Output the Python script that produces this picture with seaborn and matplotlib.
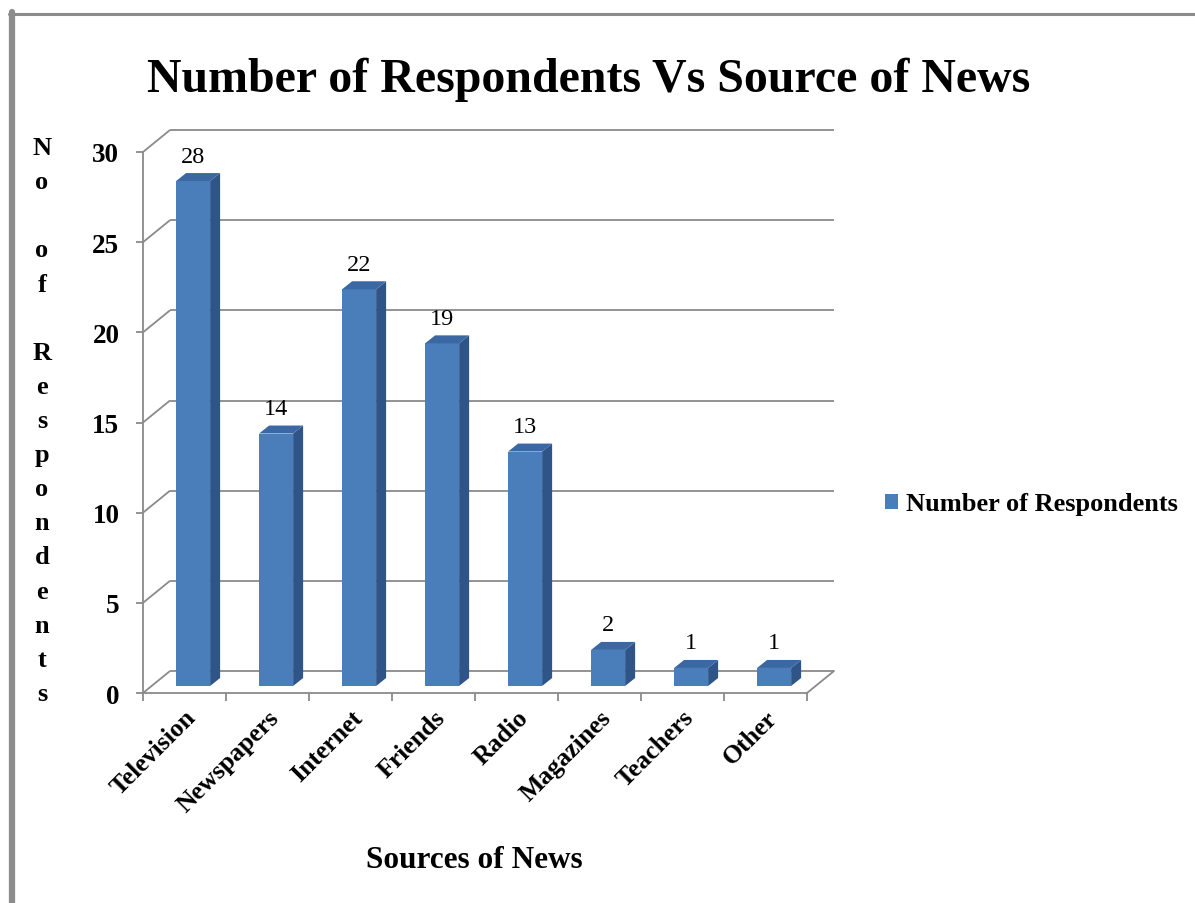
import numpy as np
import pandas as pd
import matplotlib
matplotlib.use("Agg")
import matplotlib.pyplot as plt
import seaborn as sns
from matplotlib.transforms import ScaledTranslation
from matplotlib.patches import Polygon
from matplotlib.lines import Line2D

# ---------------- data ----------------
categories = ["Television", "Newspapers", "Internet", "Friends",
              "Radio", "Magazines", "Teachers", "Other"]
respondents = [28, 14, 22, 19, 13, 2, 1, 1]
y_ticks = [0, 5, 10, 15, 20, 25, 30]
series_name = "Number of Respondents"
title_text = "Number of Respondents Vs Source of News"
x_title = "Sources of News"
y_title_words = ["No", "of", "Respondents"]

# ---------------- style ----------------
FRONT = "#4A7EBB"
SIDE = "#2F5487"
TOP = "#3B67A3"
GRID = "#8A8A8A"
FRAME = "#8C8C8C"

W, H = 1195, 904
sns.set_theme(style="white")
plt.rcParams['font.family'] = ['Liberation Serif', 'DejaVu Serif']
plt.rcParams['text.color'] = 'black'
plt.rcParams['axes.labelcolor'] = 'black'
plt.rcParams['xtick.color'] = 'black'
plt.rcParams['ytick.color'] = 'black'

fig = plt.figure(figsize=(W / 100, H / 100), dpi=100)
fig.patch.set_facecolor("white")


def fx(px):
    return px / W


def fy(py):
    return 1 - py / H


# front plane of the pseudo-3D plot area (pixels)
L, R, B, T = 143, 807, 694, 153
ax = fig.add_axes([fx(L), fy(B), fx(R) - fx(L), fy(T) - fy(B)])
ax.set_facecolor("none")

df = pd.DataFrame({"Source": categories, "Respondents": respondents,
                   "Series": series_name})
sns.barplot(data=df, x="Source", y="Respondents", hue="Series",
            palette=[FRONT], saturation=1, width=0.41, ax=ax,
            zorder=3, edgecolor="none", linewidth=0)
handles, labels = ax.get_legend_handles_labels()
if ax.get_legend() is not None:
    ax.get_legend().remove()

n = len(categories)
ax.set_xlim(-0.5, n - 0.5)
ax.set_ylim(0, 30)

px_x = (R - L) / n          # pixels per category
px_y = (B - T) / 30.0       # pixels per unit

# wall depth
wx, wy = 27 / px_x, 22 / px_y
# bar placement inside depth and bar depth
bar_dx_px, bar_dy_px = 8.6, 7
bdx, bdy = 10 / px_x, 8 / px_y

shift = ax.transData + ScaledTranslation(bar_dx_px / 100, bar_dy_px / 100,
                                         fig.dpi_scale_trans)

# walls / gridlines
glw = 1.3
for t in y_ticks:
    ax.plot([-0.5, -0.5 + wx], [t, t + wy], color=GRID, lw=glw,
            clip_on=False, zorder=1, solid_capstyle="butt")
    ax.plot([-0.5 + wx, n - 0.5 + wx], [t + wy, t + wy], color=GRID, lw=glw,
            clip_on=False, zorder=1, solid_capstyle="butt")
ax.plot([n - 0.5, n - 0.5 + wx], [0, wy], color=GRID, lw=glw,
        clip_on=False, zorder=1)

# 3D faces on the bars
for p, v in zip(ax.patches, respondents):
    p.set_transform(shift)
    x0, w, h = p.get_x(), p.get_width(), p.get_height()
    side = Polygon([(x0 + w, 0), (x0 + w + bdx, bdy), (x0 + w + bdx, h + bdy),
                    (x0 + w, h)], closed=True, facecolor=SIDE, edgecolor="none",
                   transform=shift, zorder=3, clip_on=False)
    top = Polygon([(x0, h), (x0 + w, h), (x0 + w + bdx, h + bdy),
                   (x0 + bdx, h + bdy)], closed=True, facecolor=TOP,
                  edgecolor="none", transform=shift, zorder=3, clip_on=False)
    ax.add_patch(side)
    ax.add_patch(top)
    ax.annotate(f"{v}", xy=(x0 + w / 2, h), xycoords="data",
                xytext=(bar_dx_px, bar_dy_px + 25), textcoords="offset pixels",
                ha="center", va="center", fontsize=17.5, color="black",
                annotation_clip=False)

# spines
for s in ["top", "right"]:
    ax.spines[s].set_visible(False)
for s in ["left", "bottom"]:
    ax.spines[s].set_color(GRID)
    ax.spines[s].set_linewidth(glw)

# ticks
ax.set_yticks(y_ticks)
ax.set_yticklabels([str(t) for t in y_ticks], fontweight="bold", fontsize=19.5,
                   color="black")
ax.tick_params(axis="y", which="major", left=True, length=5, width=glw,
               color=GRID, pad=12)
ax.set_xticks(range(n))
ax.set_xticklabels(categories, rotation=45, ha="right",
                   rotation_mode="anchor", fontweight="bold", fontsize=18.5,
                   color="black")
ax.tick_params(axis="x", which="major", length=0, pad=9)
ax.set_xticks(np.arange(-0.5, n, 1.0), minor=True)
ax.tick_params(axis="x", which="minor", bottom=True, length=6, width=glw,
               color=GRID)
ax.set_xlabel("")
ax.set_ylabel("")
ax.grid(False)

# legend
ax.legend(handles, labels, loc="center left",
          bbox_to_anchor=(fx(885), fy(505)), bbox_transform=fig.transFigure,
          frameon=False, borderpad=0, borderaxespad=0, handlelength=0.5,
          handleheight=0.5, handletextpad=0.3, labelcolor="black",
          prop={"family": "Liberation Serif", "weight": "bold", "size": 19})

# titles
fig.text(fx(589), fy(92), title_text, ha="center", va="baseline",
         fontsize=34.5, fontweight="bold", color="black")
fig.text(fx(474), fy(868), x_title, ha="center", va="baseline",
         fontsize=22.5, fontweight="bold", color="black")
y_title_vertical = "\n\n".join("\n".join(wd) for wd in y_title_words)
fig.text(fx(42), fy(421.5), y_title_vertical, ha="center", va="center",
         multialignment="center", fontsize=19, fontweight="bold",
         linespacing=1.618, color="black")

# frame
fig.add_artist(Line2D([fx(9), 1.0], [fy(15), fy(15)], color=FRAME, lw=2.2,
                      transform=fig.transFigure))
fig.add_artist(Line2D([fx(11.5), fx(11.5)], [fy(13), 0.0], color=FRAME,
                      lw=4.5, transform=fig.transFigure))

fig.savefig("out.png", dpi=100)
